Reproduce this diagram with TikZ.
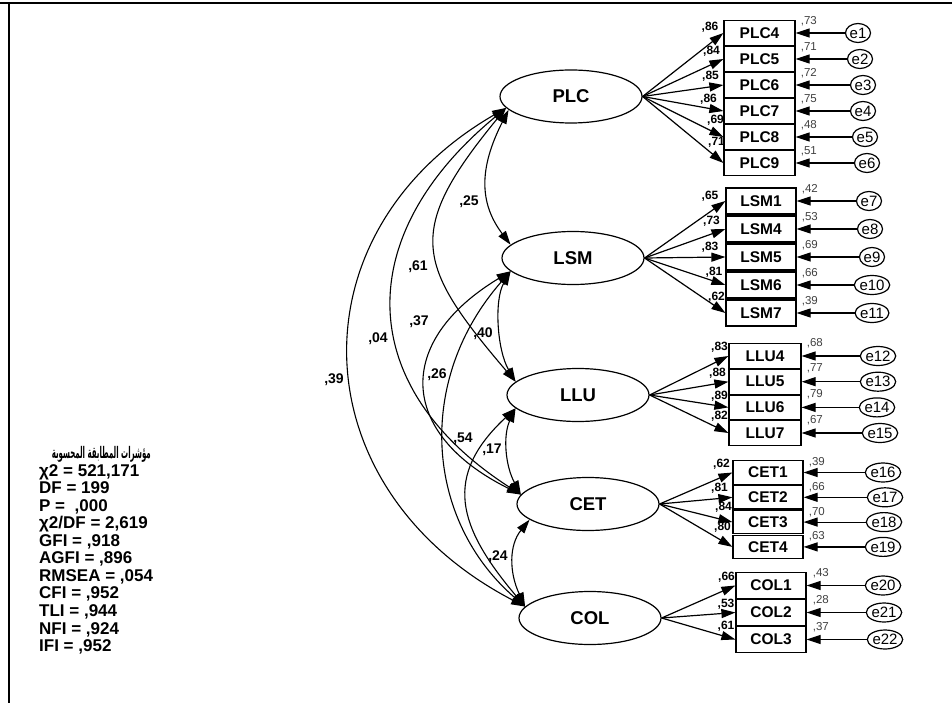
\documentclass[tikz,border=0pt]{standalone}
\usepackage{fontspec}
\usepackage{graphicx}
\setmainfont{Liberation Sans}
\newfontfamily\arabicfont[Script=Arabic]{DejaVu Sans}
\TeXXeTstate=1
\usetikzlibrary{arrows.meta,shapes.geometric}
\tikzset{
  amos/.tip={Triangle[length=14pt,width=9pt]},
  lat/.style={ellipse, draw, line width=1.2pt, minimum width=142pt, minimum height=53pt, inner sep=0pt, font=\fontsize{18.5}{20}\selectfont\bfseries},
  obs/.style={rectangle, draw, line width=1.2pt, minimum width=71pt, minimum height=25pt, inner sep=0pt, font=\fontsize{15.5}{17}\selectfont\bfseries},
  err/.style={ellipse, draw, line width=1.2pt, minimum width=25pt, minimum height=19pt, inner sep=0pt, font=\fontsize{15}{16}\selectfont},
  load/.style={line width=1.2pt, -amos},
  cov/.style={line width=1.1pt, amos-amos},
  lablo/.style={font=\fontsize{12}{13}\selectfont\bfseries, inner sep=0pt},
  labva/.style={font=\fontsize{11.5}{12}\selectfont, text=black!75, inner sep=0pt, anchor=south west},
  labcov/.style={font=\fontsize{14}{15}\selectfont\bfseries, inner sep=0pt},
  fitt/.style={font=\fontsize{17}{18}\selectfont\bfseries, inner sep=0pt, anchor=base west},
}
\begin{document}
\begin{tikzpicture}[x=1pt,y=-1pt]
\useasboundingbox (0,0) rectangle (952,703);
% frame
\draw[line width=2.3pt] (0,2.8) -- (952,2.8);
\draw[line width=1.4pt] (9,2.8) -- (9,703);

% latent variables
\node[lat] (PLC) at (571,96.5) {PLC};
\node[lat] (LSM) at (573,258) {LSM};
\node[lat] (LLU) at (578,395) {LLU};
\node[lat] (CET) at (588,504) {CET};
\node[lat] (COL) at (590,618) {COL};

% PLC indicators
\foreach \nm/\yy/\ev/\lo/\lx/\ly/\k/\ex in {PLC4/33/{,73}/{,86}/710/27/1/858, PLC5/59/{,71}/{,84}/711.5/51.5/2/860, PLC6/85/{,72}/{,85}/710.5/76/3/863, PLC7/111/{,75}/{,86}/708.5/99/4/863, PLC8/137/{,48}/{,69}/715.5/120.5/5/865, PLC9/163/{,51}/{,71}/716.5/142.5/6/867}{
  \node[obs] (\nm) at (759.5,\yy) {\nm};
  \node[err] (e\k) at (\ex,\yy) {e\k};
  \draw[load] (PLC.east) -- (\nm.west);
  \draw[load] (e\k) -- (\nm.east);
  \node[labva] (v\k) at ([xshift=5pt,yshift=-6pt]\nm.north east) {\ev};
  \node[lablo] (l\k) at (\lx,\ly) {\lo};
}
% LSM indicators
\foreach \nm/\yy/\ev/\lo/\lx/\ly/\k/\ex in {LSM1/201/{,42}/{,65}/710/196/7/869, LSM4/229/{,53}/{,73}/711.5/221.5/8/870, LSM5/257/{,69}/{,83}/710/247.5/9/872, LSM6/285/{,66}/{,81}/714/272.5/10/872, LSM7/313/{,39}/{,62}/716.5/297.5/11/872}{
  \node[obs, minimum height=26pt, minimum width=70pt] (\nm) at (761,\yy) {\nm};
  \node[err] (e\k) at (\ex,\yy) {e\k};
  \draw[load] (LSM.east) -- (\nm.west);
  \draw[load] (e\k) -- (\nm.east);
  \node[labva] (v\k) at ([xshift=5pt,yshift=-7pt]\nm.north east) {\ev};
  \node[lablo] (l\k) at (\lx,\ly) {\lo};
}
% LLU indicators
\foreach \nm/\yy/\ev/\lo/\lx/\ly/\k/\ex in {LLU4/356/{,68}/{,83}/719.5/347.5/12/878, LLU5/381.7/{,77}/{,88}/717.5/373/13/878, LLU6/407.4/{,79}/{,89}/719.5/396/14/877, LLU7/433/{,67}/{,82}/719.5/416/15/880}{
  \node[obs, minimum width=72pt] (\nm) at (765,\yy) {\nm};
  \node[err] (e\k) at (\ex,\yy) {e\k};
  \draw[load] (LLU.east) -- (\nm.west);
  \draw[load] (e\k) -- (\nm.east);
  \node[labva] (v\k) at ([xshift=5pt,yshift=-5pt]\nm.north east) {\ev};
  \node[lablo] (l\k) at (\lx,\ly) {\lo};
}
% CET indicators
\foreach \nm/\yy/\ev/\lo/\lx/\ly/\k/\ex in {CET1/472.5/{,39}/{,62}/721.5/464/16/883, CET2/497.3/{,66}/{,81}/719.5/488/17/885, CET3/522.1/{,70}/{,84}/723.5/507.5/18/884, CET4/546.9/{,63}/{,80}/722.5/527.5/19/883}{
  \node[obs, minimum width=70pt, minimum height=23.5pt] (\nm) at (768,\yy) {\nm};
  \node[err] (e\k) at (\ex,\yy) {e\k};
  \draw[load] (CET.east) -- (\nm.west);
  \draw[load] (e\k) -- (\nm.east);
  \node[labva] (v\k) at ([xshift=5pt,yshift=-7pt]\nm.north east) {\ev};
  \node[lablo] (l\k) at (\lx,\ly) {\lo};
}
% COL indicators
\foreach \nm/\yy/\ev/\lo/\lx/\ly/\k/\ex in {COL1/585.5/{,43}/{,66}/726.5/577.5/20/883, COL2/612.5/{,28}/{,53}/726/604/21/884, COL3/639.5/{,37}/{,61}/726/626/22/885}{
  \node[obs, minimum width=70pt, minimum height=26pt] (\nm) at (771,\yy) {\nm};
  \node[err] (e\k) at (\ex,\yy) {e\k};
  \draw[load] (COL.east) -- (\nm.west);
  \draw[load] (e\k) -- (\nm.east);
  \node[labva] (v\k) at ([xshift=6pt,yshift=-6pt]\nm.north east) {\ev};
  \node[lablo] (l\k) at (\lx,\ly) {\lo};
}

% covariances
\draw[cov] (PLC.190) .. controls (290,233) and (299,489) .. (COL.170);
\draw[cov] (PLC.190) .. controls (351,236) and (354,387) .. (CET.172);
\draw[cov] (PLC.190) .. controls (405,231) and (415,264) .. (LLU.168);
\draw[cov] (PLC.192) .. controls (479,168) and (479,203) .. (LSM.168);
\draw[cov] (LSM.192) .. controls (494,300) and (497,350) .. (LLU.168);
\draw[cov] (LSM.192) .. controls (395,341) and (397,433) .. (CET.172);
\draw[cov] (LSM.192) .. controls (415,380) and (425,520) .. (COL.170);
\draw[cov] (LLU.192) .. controls (443,476) and (457,526) .. (COL.170);
\draw[cov] (LLU.192) .. controls (503,435) and (505,465) .. (CET.172);
\draw[cov] (CET.195) .. controls (509,545) and (509,572) .. (COL.170);

\node[labcov] (c25) at (469,201.5) {,25};
\node[labcov] (c61) at (418,267) {,61};
\node[labcov] (c04) at (378,339) {,04};
\node[labcov] (c39) at (334,380) {,39};
\node[labcov] (c40) at (483,334) {,40};
\node[labcov] (c37) at (419,322) {,37};
\node[labcov] (c26) at (437,375) {,26};
\node[labcov] (c17) at (492,450) {,17};
\node[labcov] (c54) at (463,439) {,54};
\node[labcov] (c24) at (498,557) {,24};

% fit indices
\node[fitt, anchor=base east] (f0) at (151,458) {\resizebox{99pt}{\height}{\arabicfont\fontsize{16}{17}\selectfont\bfseries\beginR مؤشرات المطابقة المحسوبة\endR}};
\node[fitt] (f1) at (39,476) {χ2 = 521,171};
\node[fitt] (f2) at (39,493.5) {DF = 199};
\node[fitt] (f3) at (39,511.1) {P = \ ,000};
\node[fitt] (f4) at (39,528.6) {χ2/DF = 2,619};
\node[fitt] (f5) at (39,546.2) {GFI = ,918};
\node[fitt] (f6) at (39,563.8) {AGFI = ,896};
\node[fitt] (f7) at (39,581.3) {RMSEA = ,054};
\node[fitt] (f8) at (39,598.9) {CFI = ,952};
\node[fitt] (f9) at (39,616.4) {TLI = ,944};
\node[fitt] (f10) at (39,634) {NFI = ,924};
\node[fitt] (f11) at (39,651.5) {IFI = ,952};
\end{tikzpicture}
\end{document}
